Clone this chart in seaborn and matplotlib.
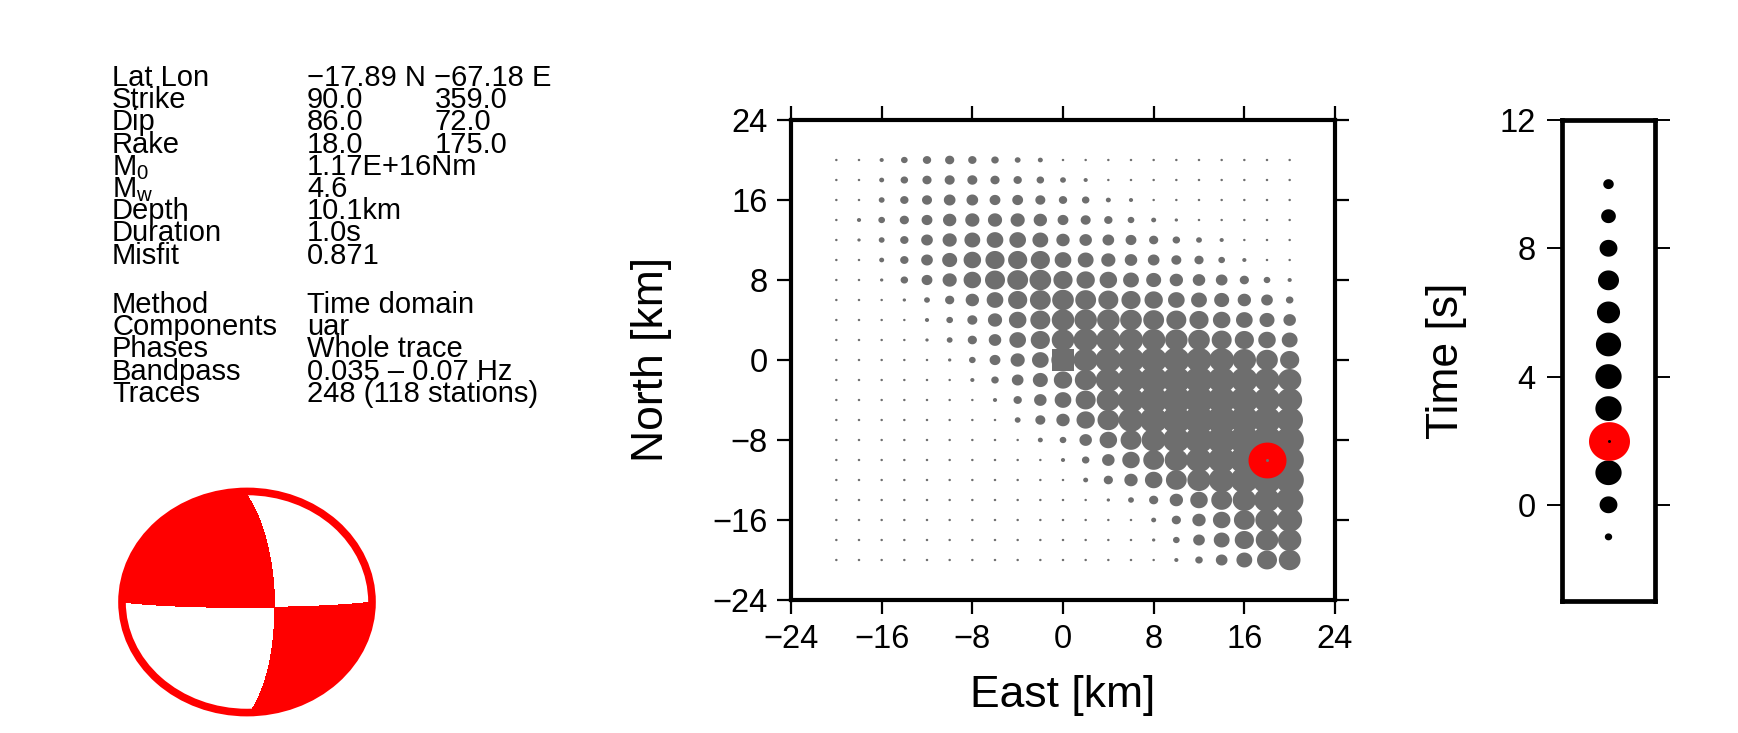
import numpy as np
import pandas as pd
import matplotlib
matplotlib.use("Agg")
import matplotlib.pyplot as plt
import seaborn as sns
from matplotlib.path import Path
from matplotlib.patches import Circle

########################################################
# Solution (moment tensor inversion result)
lat, lon = -17.89, -67.18
strike1, dip1, rake1 = 90.0, 86.0, 18.0
strike2, dip2, rake2 = 359.0, 72.0, 175.0
m0_text = "1.17E+16Nm"
mw = 4.6
depth_km = 10.1
duration_s = 1.0
misfit = 0.871
method = "Time domain"
components = "uar"
phases = "Whole trace"
bandpass = "0.035 \u2013 0.07 Hz"
traces = "248 (118 stations)"

# Centroid grid search: relative fit at every grid node
east_km = list(range(-20, 21, 2))
north_km = list(range(20, -21, -2))
# rows: north 20 -> -20, columns: east -20 -> 20
fit_grid = [
    [6, 6, 10, 16, 20, 22, 20, 18, 14, 12, 6, 6, 6, 6, 6, 6, 6, 6, 6, 6, 6],
    [6, 6, 12, 18, 22, 24, 24, 22, 20, 18, 14, 10, 6, 6, 6, 6, 6, 6, 6, 6, 6],
    [6, 6, 14, 20, 24, 28, 28, 26, 26, 24, 20, 18, 12, 10, 6, 6, 6, 6, 6, 6, 6],
    [6, 10, 16, 22, 26, 32, 34, 34, 34, 32, 26, 24, 20, 16, 12, 8, 6, 6, 6, 6, 6],
    [6, 8, 14, 20, 28, 34, 38, 40, 40, 38, 32, 30, 28, 26, 22, 18, 14, 10, 6, 6, 6],
    [6, 6, 12, 20, 28, 36, 42, 46, 46, 46, 40, 38, 34, 30, 28, 24, 22, 16, 10, 6, 6],
    [6, 6, 8, 18, 26, 34, 42, 48, 50, 52, 46, 44, 42, 38, 36, 32, 30, 28, 22, 16, 10],
    [6, 6, 6, 8, 14, 22, 32, 40, 46, 50, 52, 50, 48, 46, 44, 40, 38, 36, 32, 28, 18],
    [6, 6, 6, 6, 10, 16, 24, 34, 42, 48, 54, 54, 54, 52, 50, 48, 46, 42, 40, 36, 30],
    [6, 6, 6, 6, 8, 14, 22, 30, 40, 46, 54, 58, 58, 58, 56, 54, 52, 48, 46, 42, 38],
    [6, 6, 6, 6, 6, 8, 16, 26, 34, 40, 56, 58, 62, 64, 64, 64, 62, 60, 56, 52, 46],
    [6, 6, 6, 6, 6, 6, 10, 18, 28, 36, 44, 52, 60, 66, 68, 68, 68, 66, 64, 60, 56],
    [6, 6, 6, 6, 6, 6, 6, 10, 20, 30, 40, 48, 56, 64, 68, 70, 70, 68, 68, 64, 60],
    [6, 6, 6, 6, 6, 6, 6, 6, 14, 24, 32, 44, 52, 60, 66, 70, 72, 72, 70, 68, 64],
    [6, 6, 6, 6, 6, 6, 6, 6, 6, 12, 16, 30, 42, 50, 58, 64, 68, 70, 72, 72, 68],
    [6, 6, 6, 6, 6, 6, 6, 6, 6, 6, 10, 18, 30, 42, 50, 56, 62, 66, 70, 72, 68],
    [6, 6, 6, 6, 6, 6, 6, 6, 6, 6, 6, 12, 22, 32, 42, 50, 56, 62, 66, 70, 68],
    [6, 6, 6, 6, 6, 6, 6, 6, 6, 6, 6, 6, 8, 14, 22, 32, 42, 50, 56, 62, 66],
    [6, 6, 6, 6, 6, 6, 6, 6, 6, 6, 6, 6, 6, 6, 12, 22, 32, 42, 50, 56, 60],
    [6, 6, 6, 6, 6, 6, 6, 6, 6, 6, 6, 6, 6, 6, 8, 16, 28, 38, 46, 54, 56],
    [6, 6, 6, 6, 6, 6, 6, 6, 6, 6, 6, 6, 6, 6, 6, 10, 18, 28, 38, 48, 52],
]
best_east, best_north = 18, -10
start_east, start_north = 0, 0

# Centroid time search
time_s = [-1, 0, 1, 2, 3, 4, 5, 6, 7, 8, 9, 10]
fit_time = [21, 51, 75, 78, 75, 75, 72, 66, 60, 51, 42, 30]
best_time = 2

########################################################
sns.set_style("ticks")
plt.rcParams['font.family'] = ['Liberation Sans', 'DejaVu Sans']
plt.rcParams['axes.unicode_minus'] = True
for key in ['text.color', 'axes.labelcolor', 'xtick.color', 'ytick.color']:
    plt.rcParams[key] = 'black'

W, H = 1738, 733
fig = plt.figure(figsize=(W / 100, H / 100), dpi=100)

def box(x0, y0, x1, y1):
    # pixel box (top-left origin) -> figure fraction
    return [x0 / W, 1 - y1 / H, (x1 - x0) / W, (y1 - y0) / H]

# slightly wide oval marker (the original picture is a bit stretched sideways)
theta = np.linspace(0, 2 * np.pi, 73)
oval = Path(np.column_stack([1.06 * np.cos(theta), np.sin(theta)]), closed=True)
PT = 0.72  # points per pixel
FMAX = 80

########################################################
# Text block
labels1 = ["Lat Lon", "Strike", "Dip", "Rake", r"M$_\mathregular{0}$", r"M$_\mathregular{w}$",
           "Depth", "Duration", "Misfit"]
values1 = [f"\u2212{abs(lat):.2f} N \u2212{abs(lon):.2f} E", f"{strike1:.1f}", f"{dip1:.1f}",
           f"{rake1:.1f}", m0_text, f"{mw:.1f}", f"{depth_km:.1f}km", f"{duration_s:.1f}s",
           f"{misfit:.3f}"]
values1b = ["", f"{strike2:.1f}", f"{dip2:.1f}", f"{rake2:.1f}", "", "", "", "", ""]
labels2 = ["Method", "Components", "Phases", "Bandpass", "Traces"]
values2 = [method, components, phases, bandpass, traces]

line_h = 22.2
for i in range(len(labels1)):
    yb = 86 + i * line_h
    fig.text(112 / W, 1 - yb / H, labels1[i], fontsize=21, va='baseline')
    fig.text(307 / W, 1 - yb / H, values1[i], fontsize=21, va='baseline')
    if values1b[i]:
        fig.text(435 / W, 1 - yb / H, values1b[i], fontsize=21, va='baseline')
for i in range(len(labels2)):
    yb = 313 + i * line_h
    fig.text(112 / W, 1 - yb / H, labels2[i], fontsize=21, va='baseline')
    fig.text(307 / W, 1 - yb / H, values2[i], fontsize=21, va='baseline')

########################################################
# Beach ball (lower hemisphere, equal area)
phi, d, l = np.radians([strike1, dip1, rake1])
mxx = -(np.sin(d) * np.cos(l) * np.sin(2 * phi) + np.sin(2 * d) * np.sin(l) * np.sin(phi) ** 2)
mxy = np.sin(d) * np.cos(l) * np.cos(2 * phi) + 0.5 * np.sin(2 * d) * np.sin(l) * np.sin(2 * phi)
mxz = -(np.cos(d) * np.cos(l) * np.cos(phi) + np.cos(2 * d) * np.sin(l) * np.sin(phi))
myy = np.sin(d) * np.cos(l) * np.sin(2 * phi) - np.sin(2 * d) * np.sin(l) * np.cos(phi) ** 2
myz = -(np.cos(d) * np.cos(l) * np.sin(phi) - np.cos(2 * d) * np.sin(l) * np.cos(phi))
mzz = np.sin(2 * d) * np.sin(l)

gx, gy = np.meshgrid(np.linspace(-1, 1, 801), np.linspace(-1, 1, 801))
rr = np.hypot(gx, gy)
inc = 2 * np.arcsin(np.clip(rr / np.sqrt(2), 0, 1))
az = np.arctan2(gx, gy)
nx, ny, nz = np.cos(az) * np.sin(inc), np.sin(az) * np.sin(inc), np.cos(inc)
amp = (mxx * nx * nx + myy * ny * ny + mzz * nz * nz
       + 2 * (mxy * nx * ny + mxz * nx * nz + myz * ny * nz))
amp = np.ma.masked_where(rr > 1, amp)

axb = fig.add_axes(box(117, 487, 377, 717))
axb.contourf(gx, gy, amp, levels=[-1e9, 0, 1e9], colors=['white', 'red'])
axb.add_patch(Circle((0, 0), 1, fill=False, ec='red', lw=5.5))
axb.set_xlim(-1.04, 1.04)
axb.set_ylim(-1.04, 1.04)
axb.axis('off')

########################################################
# Spatial grid
rows = []
for i, n in enumerate(north_km):
    for j, e in enumerate(east_km):
        rows.append({"east": e, "north": n, "fit": fit_grid[i][j]})
grid = pd.DataFrame(rows)
grid["area"] = grid["fit"] ** 2

grid_px = 1.25 / 3   # dot width in pixels per fit unit
ax = fig.add_axes(box(791, 120, 1335, 600))
sns.scatterplot(data=grid, x="east", y="north", size="area",
                sizes=(0, (FMAX * grid_px * PT) ** 2), size_norm=(0, FMAX ** 2),
                color="#6e6e6e", marker=oval, linewidth=0, legend=False, ax=ax)
ax.scatter([start_east], [start_north], s=(22 * PT) ** 2, marker='s', color="#6e6e6e", lw=0, zorder=3)
ax.scatter([best_east], [best_north], s=(38 * PT) ** 2, marker=oval, color='red', lw=0, zorder=4)
ax.scatter([best_east], [best_north], s=(3 * PT) ** 2, marker='o', color="#6e6e6e", lw=0, zorder=5)
ax.set_xlim(-24, 24)
ax.set_ylim(-24, 24)
ax.set_xticks(range(-24, 25, 8))
ax.set_yticks(range(-24, 25, 8))
ax.tick_params(direction='out', top=True, right=True, length=10, width=1.6,
               labelsize=23.5, pad=7, color='black')
for sp in ax.spines.values():
    sp.set_linewidth(3)
    sp.set_color('black')
ax.set_xlabel("East [km]", fontsize=32, va='center')
ax.set_ylabel("North [km]", fontsize=32, va='center')
ax.xaxis.set_label_coords(0.5, -0.2)
ax.yaxis.set_label_coords(-0.256, 0.5)

########################################################
# Centroid time
tdf = pd.DataFrame({"col": [0] * len(time_s), "time": time_s, "fit": fit_time})
tdf["area"] = tdf["fit"] ** 2

time_px = 1.05 / 3
axt = fig.add_axes(box(1562, 120, 1655, 601))
sns.scatterplot(data=tdf, x="col", y="time", size="area",
                sizes=(0, (FMAX * time_px * PT) ** 2), size_norm=(0, FMAX ** 2),
                color="black", marker=oval, linewidth=0, legend=False, ax=axt)
axt.scatter([0], [best_time], s=(41 * PT) ** 2, marker=oval, color='red', lw=0, zorder=4)
axt.scatter([0], [best_time], s=(3 * PT) ** 2, marker='o', color='black', lw=0, zorder=5)
axt.set_xlim(-1, 1)
axt.set_ylim(-3, 12)
axt.set_xticks([])
axt.set_yticks([0, 4, 8, 12])
axt.tick_params(axis='y', direction='out', right=True, length=11, width=1.4,
                labelsize=23.5, pad=8)
for sp in axt.spines.values():
    sp.set_linewidth(3.4)
    sp.set_color('black')
axt.set_xlabel("")
axt.set_ylabel("Time [s]", fontsize=32, va='center')
axt.yaxis.set_label_coords(-1.24, 0.5)

fig.savefig("out.png", dpi=100)
